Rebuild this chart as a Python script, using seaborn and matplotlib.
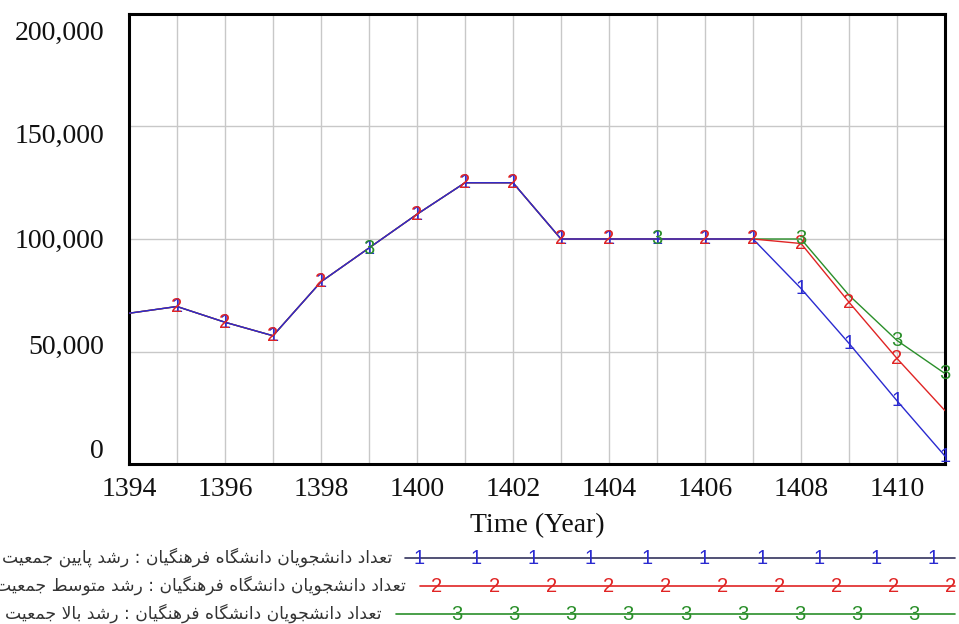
import numpy as np
import pandas as pd
import matplotlib
matplotlib.use("Agg")
import matplotlib.pyplot as plt
import matplotlib.transforms as mtransforms
import seaborn as sns

# ---------------- data ----------------
years = list(range(1394, 1412))
low = [67000, 70000, 63000, 57000, 81000, 96000, 111000, 125000, 125000, 100000,
       100000, 100000, 100000, 100000, 78000, 53600, 28100, 3500]
mid = [67000, 70000, 63000, 57000, 81000, 96000, 111000, 125000, 125000, 100000,
       100000, 100000, 100000, 100000, 98000, 71900, 46900, 23700]
high = [67000, 70000, 63000, 57000, 81000, 96000, 111000, 125000, 125000, 100000,
        100000, 100000, 100000, 100000, 100000, 75000, 54900, 40200]
series_names = [
    "تعداد دانشجویان دانشگاه فرهنگیان : رشد پایین جمعیت",
    "تعداد دانشجویان دانشگاه فرهنگیان : رشد متوسط جمعیت",
    "تعداد دانشجویان دانشگاه فرهنگیان : رشد بالا جمعیت",
]
x_ticks = [1394, 1396, 1398, 1400, 1402, 1404, 1406, 1408, 1410]
y_ticks = [0, 50000, 100000, 150000, 200000]
x_label = "Time (Year)"

# years where each series' number-marker is shown (style)
marker_years_1 = list(range(1395, 1412))
marker_years_2 = [1395, 1396, 1397, 1398, 1400, 1401, 1402, 1403, 1404, 1406, 1407, 1408, 1409, 1410]
marker_years_3 = [1399, 1405, 1408, 1410, 1411]

colors = ["#2a2ad0", "#e02424", "#2a8f2a"]
legend_line_colors = ["#34345e", "#e02424", "#2a8f2a"]

# ---------------- Arabic/Persian shaping ----------------
FORMS = {
    'ا': ('\uFE8D', '\uFE8E', None, None),
    'ب': ('\uFE8F', '\uFE90', '\uFE91', '\uFE92'),
    'پ': ('\uFB56', '\uFB57', '\uFB58', '\uFB59'),
    'ت': ('\uFE95', '\uFE96', '\uFE97', '\uFE98'),
    'ج': ('\uFE9D', '\uFE9E', '\uFE9F', '\uFEA0'),
    'د': ('\uFEA9', '\uFEAA', None, None),
    'ر': ('\uFEAD', '\uFEAE', None, None),
    'س': ('\uFEB1', '\uFEB2', '\uFEB3', '\uFEB4'),
    'ش': ('\uFEB5', '\uFEB6', '\uFEB7', '\uFEB8'),
    'ط': ('\uFEC1', '\uFEC2', '\uFEC3', '\uFEC4'),
    'ع': ('\uFEC9', '\uFECA', '\uFECB', '\uFECC'),
    'ف': ('\uFED1', '\uFED2', '\uFED3', '\uFED4'),
    'گ': ('\uFB92', '\uFB93', '\uFB94', '\uFB95'),
    'ل': ('\uFEDD', '\uFEDE', '\uFEDF', '\uFEE0'),
    'م': ('\uFEE1', '\uFEE2', '\uFEE3', '\uFEE4'),
    'ن': ('\uFEE5', '\uFEE6', '\uFEE7', '\uFEE8'),
    'ه': ('\uFEE9', '\uFEEA', '\uFEEB', '\uFEEC'),
    'و': ('\uFEED', '\uFEEE', None, None),
    'ی': ('\uFBFC', '\uFBFD', '\uFBFE', '\uFBFF'),
}


def shape(text):
    out = []
    chars = list(text)
    i = 0
    n = len(chars)
    while i < n:
        ch = chars[i]
        if ch not in FORMS:
            out.append(ch)
            i += 1
            continue
        prev = chars[i - 1] if i > 0 else None
        conn_prev = prev in FORMS and FORMS[prev][2] is not None
        nxt = chars[i + 1] if i + 1 < n else None
        if ch == 'ل' and nxt == 'ا':
            out.append('\uFEFC' if conn_prev else '\uFEFB')
            i += 2
            continue
        dual = FORMS[ch][2] is not None
        conn_next = dual and nxt in FORMS
        iso, fin, ini, med = FORMS[ch]
        if conn_prev and conn_next:
            out.append(med)
        elif conn_prev:
            out.append(fin)
        elif conn_next:
            out.append(ini)
        else:
            out.append(iso)
        i += 1
    return ''.join(reversed(out))


# ---------------- figure ----------------
sns.set_theme(style="white")
plt.rcParams['font.family'] = ['Liberation Serif', 'DejaVu Serif']

fig = plt.figure(figsize=(9.59, 6.24), dpi=100)
W, H = 959, 624
ax = fig.add_axes([129 / W, 1 - 464 / H, (945 - 129) / W, (464 - 14) / H])

df = pd.DataFrame({
    "year": years * 3,
    "value": low + mid + high,
    "series": ["1"] * len(years) + ["2"] * len(years) + ["3"] * len(years),
})

# draw green, red, then blue on top
for s, c in [("3", colors[2]), ("2", colors[1]), ("1", colors[0])]:
    sns.lineplot(data=df[df.series == s], x="year", y="value", color=c,
                 linewidth=1.0, ax=ax, legend=False, zorder=3)

vals = {"1": dict(zip(years, low)), "2": dict(zip(years, mid)), "3": dict(zip(years, high))}
marker_font = dict(family=['Liberation Sans', 'DejaVu Sans'], fontsize=14.5)
for s, yrs, c, z in [("1", marker_years_1, colors[0], 5), ("2", marker_years_2, colors[1], 6),
                     ("3", marker_years_3, colors[2], 7)]:
    for yr in yrs:
        ax.text(yr, vals[s][yr], s, color=c, ha="center", va="center",
                zorder=z, **marker_font)

ax.set_xlim(1394, 1411)
ax.set_ylim(0, 200000)
ax.set_xticks(years, minor=False)
ax.set_xticklabels([str(y) if y in x_ticks else "" for y in years])
ax.set_yticks(y_ticks)
ax.set_yticklabels([f"{v:,}" for v in y_ticks])
ax.grid(True, color="#c8c8c8", linewidth=1.0)
ax.set_axisbelow(True)
for sp in ax.spines.values():
    sp.set_color("black")
    sp.set_linewidth(2.2)
    sp.set_visible(True)
ax.tick_params(axis="both", length=0, labelsize=20, colors="#111111")
ax.tick_params(axis="x", pad=9)
ax.tick_params(axis="y", pad=18)
# Vensim-style: y labels drawn slightly inside the range
y_shift_px = [16, 7, 1, -7, -16]
for lab, sh in zip(ax.get_yticklabels(), y_shift_px):
    off = mtransforms.ScaledTranslation(0, sh / 100.0, fig.dpi_scale_trans)
    lab.set_transform(lab.get_transform() + off)
ax.set_xlabel(x_label, fontsize=20, labelpad=8, color="#111111")
ax.set_ylabel("")

# ---------------- legend ----------------
leg_y = [558, 586, 614]
text_right = [392, 406, 382]
line_start = [405, 420, 396]
mark_start = [419, 437, 457]
mark_count = [10, 10, 9]
for k in range(3):
    yf = 1 - leg_y[k] / H
    fig.text(text_right[k] / W, 1 - (leg_y[k] - 1) / H, shape(series_names[k]),
             ha="right", va="center", fontsize=12.3, color="#333333",
             family=['DejaVu Sans'])
    fig.add_artist(plt.Line2D([line_start[k] / W, 955 / W], [yf, yf],
                              color=legend_line_colors[k], linewidth=1.2,
                              transform=fig.transFigure))
    for j in range(mark_count[k]):
        fig.text((mark_start[k] + 57.1 * j) / W, yf, str(k + 1), color=colors[k],
                 ha="center", va="center", **marker_font)

fig.savefig("out.png", dpi=100)
